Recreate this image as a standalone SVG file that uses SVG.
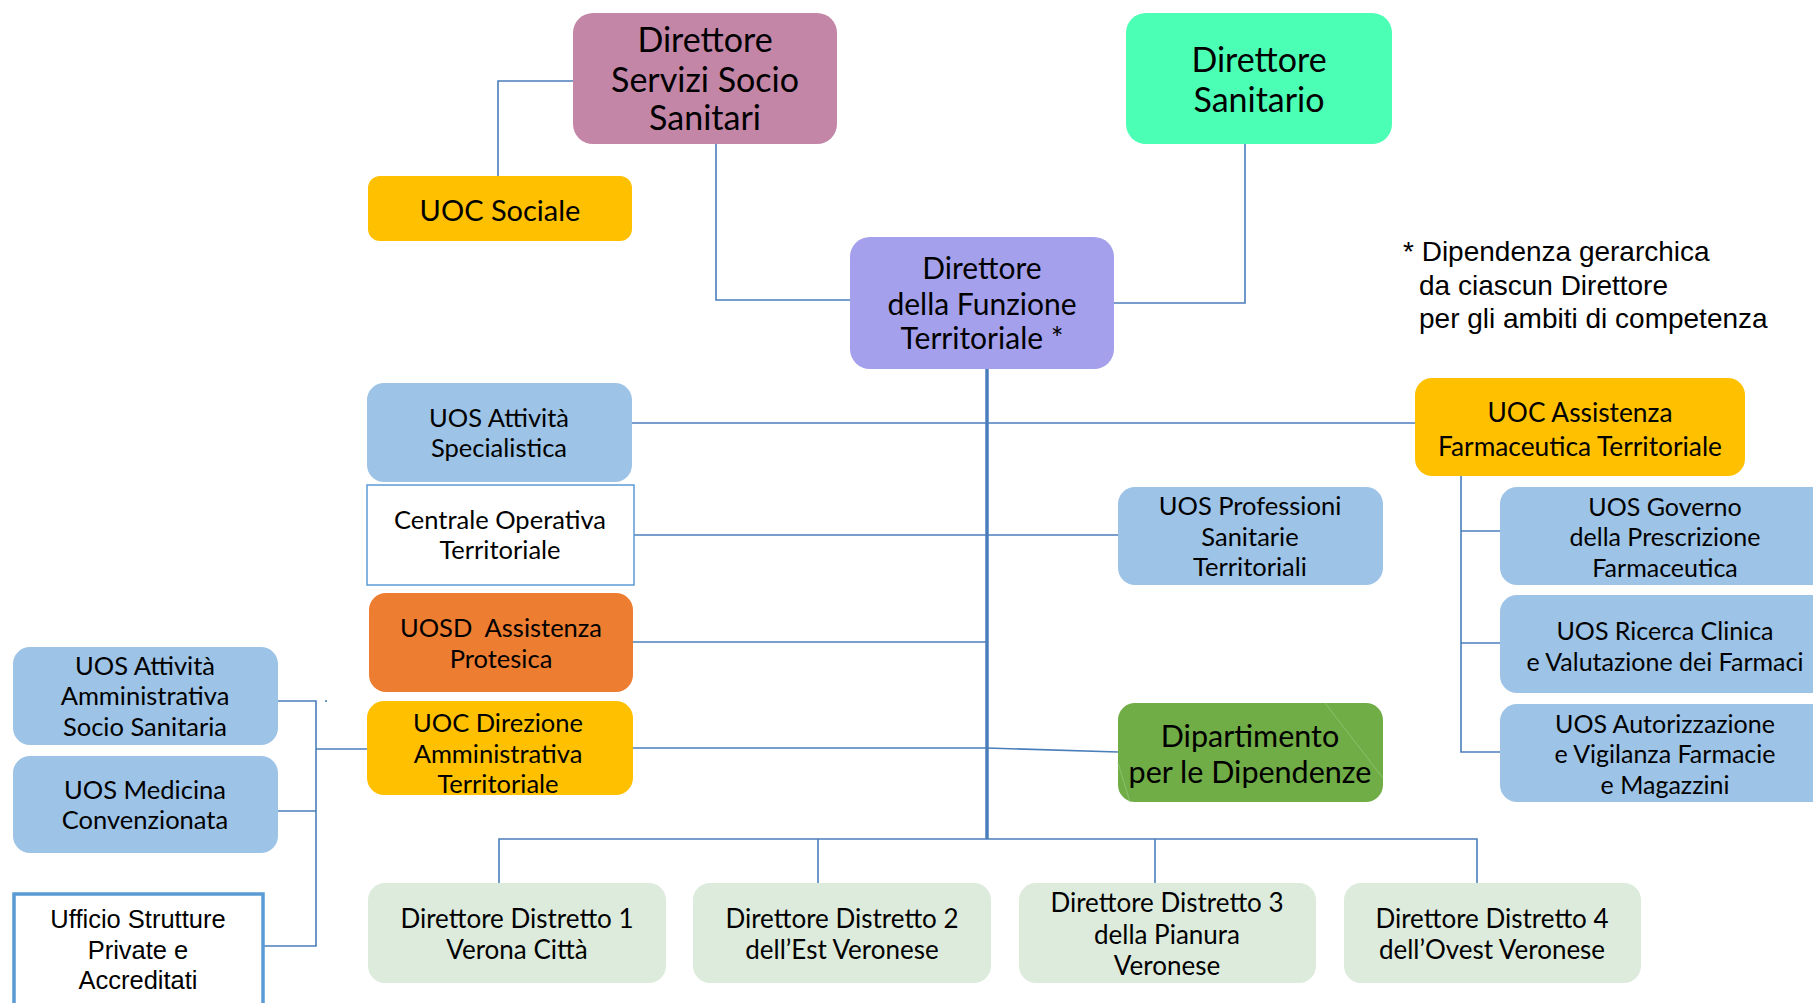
<svg xmlns="http://www.w3.org/2000/svg" width="1813" height="1003" viewBox="0 0 1813 1003">
<style>
  .c { font-family: Lato, "Noto Sans", sans-serif; fill: #000; text-anchor: middle; }
  .a { font-family: "Liberation Sans", Arial, sans-serif; fill: #000; }
  .big { font-size: 34px; }
  .mid { font-size: 30px; }
  .sm { font-size: 25.5px; }
  .conn { fill: none; stroke: #4A7EBB; stroke-width: 1.6; }
  .uos { fill: #9DC3E6; }
  .uoc { fill: #FFC000; }
  .dist { fill: #DDEBDC; }
</style>
<rect width="1813" height="1003" fill="#FFFFFF"/>

<g id="connectors">
  <path class="conn" d="M573 81 H498 V176"/>
  <path class="conn" d="M716 143 V300 H850"/>
  <path class="conn" d="M1245 143 V303 H1114"/>
  <path class="conn" d="M631 423 H1415"/>
  <path class="conn" d="M634 535 H1118"/>
  <path class="conn" d="M632 642 H987"/>
  <path class="conn" d="M632 748 H987 L1118 752"/>
  <path class="conn" d="M499 883 V839 H1477 V883"/>
  <path class="conn" d="M818 839 V883"/>
  <path class="conn" d="M1155 839 V883"/>
  <path class="conn" d="M1461 476 V752 H1500"/>
  <path class="conn" d="M1461 531 H1500"/>
  <path class="conn" d="M1461 643 H1500"/>
  <path class="conn" d="M278 701 H316 V946 H264"/>
  <path class="conn" d="M278 811 H316"/>
  <path class="conn" d="M316 749 H367"/>
  <path class="conn" d="M326 700 V702"/>
  <path fill="none" stroke="#4A7EBB" stroke-width="3.5" d="M987 369 V839"/>
</g>

<g id="dsss">
  <rect x="573" y="13" width="264" height="131" rx="20" fill="#C386A7"/>
  <text class="c big" x="705" y="52">Direttore</text>
  <text class="c big" x="705" y="92">Servizi Socio</text>
  <text class="c big" x="705" y="130">Sanitari</text>
</g>

<g id="ds">
  <rect x="1126" y="13" width="266" height="131" rx="20" fill="#4BFFB5"/>
  <text class="c big" x="1259" y="72">Direttore</text>
  <text class="c big" x="1259" y="112">Sanitario</text>
</g>

<g id="uoc-sociale">
  <rect x="368" y="176" width="264" height="65" rx="12" class="uoc"/>
  <text class="c" font-size="29" x="500" y="221">UOC Sociale</text>
</g>

<g id="dft">
  <rect x="850" y="237" width="264" height="132" rx="20" fill="#A5A0EB"/>
  <text class="c mid" x="982" y="279">Direttore</text>
  <text class="c mid" x="982" y="315">della Funzione</text>
  <text class="c mid" x="982" y="349">Territoriale *</text>
</g>

<g id="nota">
  <text class="a" font-size="28" x="1403" y="261">* Dipendenza gerarchica</text>
  <text class="a" font-size="28" x="1419" y="295">da ciascun Direttore</text>
  <text class="a" font-size="28" x="1419" y="328">per gli ambiti di competenza</text>
</g>

<g id="uos-att-spec">
  <rect x="367" y="383" width="265" height="99" rx="17" class="uos"/>
  <text class="c sm" x="499" y="427">UOS Attività</text>
  <text class="c sm" x="499" y="457">Specialistica</text>
</g>

<g id="cot">
  <rect x="367" y="485" width="267" height="100" fill="#FFFFFF" stroke="#5B9BD5" stroke-width="1.5"/>
  <text class="c sm" x="500" y="529">Centrale Operativa</text>
  <text class="c sm" x="500" y="559">Territoriale</text>
</g>

<g id="uosd">
  <rect x="369" y="593" width="264" height="99" rx="17" fill="#ED7D31"/>
  <text class="c sm" x="501" y="637" xml:space="preserve">UOSD  Assistenza</text>
  <text class="c sm" x="501" y="668">Protesica</text>
</g>

<g id="uoc-dat">
  <rect x="367" y="701" width="266" height="94" rx="17" class="uoc"/>
  <text class="c sm" x="498" y="732">UOC Direzione</text>
  <text class="c sm" x="498" y="763">Amministrativa</text>
  <text class="c sm" x="498" y="793">Territoriale</text>
</g>

<g id="uoc-aft">
  <rect x="1415" y="378" width="330" height="98" rx="17" class="uoc"/>
  <text class="c" font-size="26.3" x="1580" y="422">UOC Assistenza</text>
  <text class="c" font-size="26.3" x="1580" y="456">Farmaceutica Territoriale</text>
</g>

<g id="uos-prof">
  <rect x="1118" y="487" width="265" height="98" rx="17" class="uos"/>
  <text class="c sm" x="1250" y="515">UOS Professioni</text>
  <text class="c sm" x="1250" y="546">Sanitarie</text>
  <text class="c sm" x="1250" y="576">Territoriali</text>
</g>

<g id="dipartimento">
  <rect x="1118" y="703" width="265" height="99" rx="17" fill="#70AD47"/>
  <path d="M1325 703 L1383 778 M1118 763 L1130 802" stroke="#8DC06B" stroke-width="1" fill="none"/>
  <text class="c" font-size="30.5" x="1250" y="747">Dipartimento</text>
  <text class="c" font-size="30.5" x="1250" y="783">per le Dipendenze</text>
</g>

<g id="uos-governo">
  <rect x="1500" y="487" width="340" height="98" rx="17" class="uos"/>
  <text class="c" font-size="25" x="1665" y="516">UOS Governo</text>
  <text class="c" font-size="25" x="1665" y="546">della Prescrizione</text>
  <text class="c" font-size="25" x="1665" y="577">Farmaceutica</text>
</g>

<g id="uos-ricerca">
  <rect x="1500" y="595" width="340" height="98" rx="17" class="uos"/>
  <text class="c" font-size="25" x="1665" y="640">UOS Ricerca Clinica</text>
  <text class="c" font-size="25" x="1665" y="671">e Valutazione dei Farmaci</text>
</g>

<g id="uos-autorizzazione">
  <rect x="1500" y="704" width="340" height="98" rx="17" class="uos"/>
  <text class="c" font-size="25" x="1665" y="733">UOS Autorizzazione</text>
  <text class="c" font-size="25" x="1665" y="763">e Vigilanza Farmacie</text>
  <text class="c" font-size="25" x="1665" y="794">e Magazzini</text>
</g>

<g id="uos-att-amm">
  <rect x="13" y="647" width="265" height="98" rx="17" class="uos"/>
  <text class="c sm" x="145" y="675">UOS Attività</text>
  <text class="c sm" x="145" y="705">Amministrativa</text>
  <text class="c sm" x="145" y="736">Socio Sanitaria</text>
</g>

<g id="uos-med">
  <rect x="13" y="756" width="265" height="97" rx="17" class="uos"/>
  <text class="c sm" x="145" y="799">UOS Medicina</text>
  <text class="c sm" x="145" y="829">Convenzionata</text>
</g>

<g id="ufficio">
  <rect x="14" y="894" width="249" height="120" fill="#FFFFFF" stroke="#5B9BD5" stroke-width="3.5"/>
  <text class="a" font-size="25.5" text-anchor="middle" x="138" y="928">Ufficio Strutture</text>
  <text class="a" font-size="25.5" text-anchor="middle" x="138" y="959">Private e</text>
  <text class="a" font-size="25.5" text-anchor="middle" x="138" y="989">Accreditati</text>
</g>

<g id="distretto1">
  <rect x="368" y="883" width="298" height="100" rx="17" class="dist"/>
  <text class="c" font-size="26" x="517" y="928">Direttore Distretto 1</text>
  <text class="c" font-size="26" x="517" y="959">Verona Città</text>
</g>

<g id="distretto2">
  <rect x="693" y="883" width="298" height="100" rx="17" class="dist"/>
  <text class="c" font-size="26" x="842" y="928">Direttore Distretto 2</text>
  <text class="c" font-size="26" x="842" y="959">dell’Est Veronese</text>
</g>

<g id="distretto3">
  <rect x="1019" y="883" width="297" height="100" rx="17" class="dist"/>
  <text class="c" font-size="26" x="1167" y="912">Direttore Distretto 3</text>
  <text class="c" font-size="26" x="1167" y="944">della Pianura</text>
  <text class="c" font-size="26" x="1167" y="975">Veronese</text>
</g>

<g id="distretto4">
  <rect x="1344" y="883" width="297" height="100" rx="17" class="dist"/>
  <text class="c" font-size="26" x="1492" y="928">Direttore Distretto 4</text>
  <text class="c" font-size="26" x="1492" y="959">dell’Ovest Veronese</text>
</g>
</svg>
